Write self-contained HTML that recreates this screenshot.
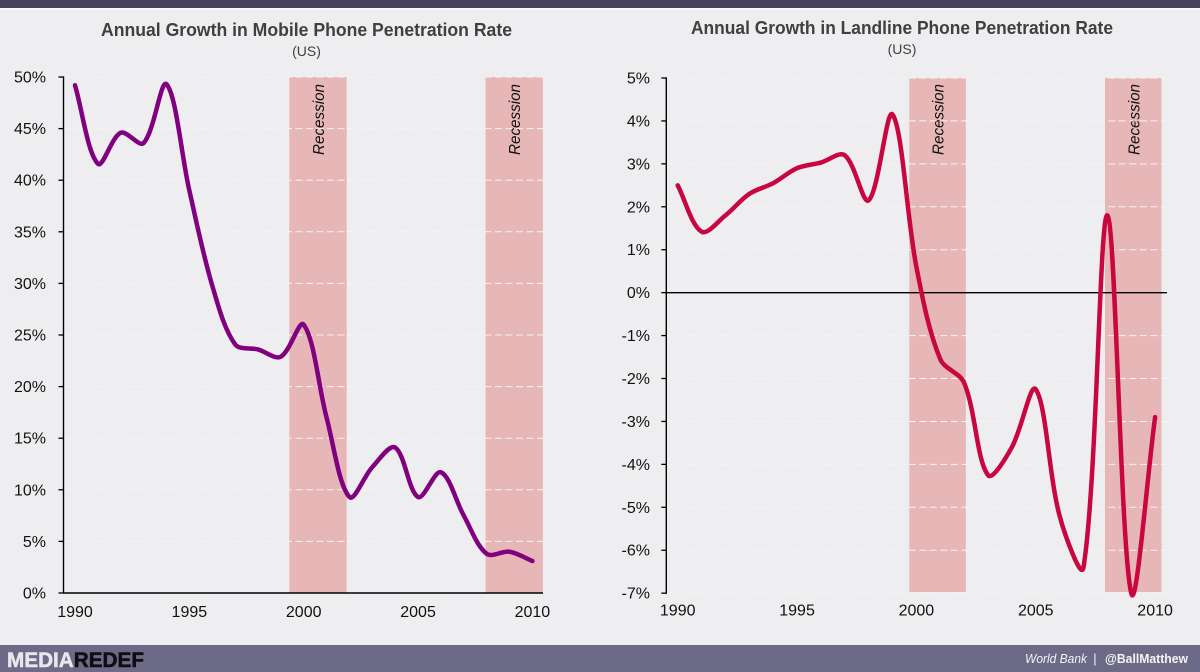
<!DOCTYPE html>
<html lang="en">
<head>
<meta charset="utf-8">
<title>Annual Growth in Phone Penetration Rate</title>
<style>
  html, body { margin: 0; padding: 0; background: #eeeef0; }
  body { width: 1200px; height: 672px; overflow: hidden; font-family: "Liberation Sans", sans-serif; }
  svg { display: block; }
  text { font-family: "Liberation Sans", sans-serif; }
</style>
</head>
<body>
<svg id="canvas" width="1200" height="672" viewBox="0 0 1200 672" xmlns="http://www.w3.org/2000/svg">
  <rect x="0" y="0" width="1200" height="672" fill="#eeeef0"/>
  <rect x="0" y="0" width="1200" height="8" fill="#44425a"/>
  <rect x="0" y="8" width="1200" height="1.5" fill="#fafafa"/>

  <g id="mobile-chart"></g>
  <g id="landline-chart"></g>

  <text x="306.5" y="36" text-anchor="middle" font-size="18" font-weight="700" fill="#404040" textLength="411" lengthAdjust="spacingAndGlyphs">Annual Growth in Mobile Phone Penetration Rate</text>
  <text x="306.5" y="56" text-anchor="middle" font-size="14" fill="#404040">(US)</text>
  <text x="902" y="34" text-anchor="middle" font-size="18" font-weight="700" fill="#404040" textLength="422" lengthAdjust="spacingAndGlyphs">Annual Growth in Landline Phone Penetration Rate</text>
  <text x="902" y="54" text-anchor="middle" font-size="14" fill="#404040">(US)</text>

  <rect x="0" y="645" width="1200" height="27" fill="#6c6a87"/>
  <text x="7" y="667" font-size="21" font-weight="700" textLength="137" lengthAdjust="spacingAndGlyphs"><tspan fill="#e8e8ec" stroke="#e8e8ec" stroke-width="0.5">MEDIA</tspan><tspan fill="#0d0d12" stroke="#0d0d12" stroke-width="0.5">REDEF</tspan></text>
  <text x="1025" y="663" font-size="13" font-style="italic" fill="#f4f4f6" textLength="62" lengthAdjust="spacingAndGlyphs">World Bank</text>
  <text x="1095" y="663" font-size="13" text-anchor="middle" fill="#f4f4f6">|</text>
  <text x="1105" y="663" font-size="13" font-weight="700" fill="#f4f4f6" textLength="83" lengthAdjust="spacingAndGlyphs">@BallMatthew</text>
</svg>

<script>
const years = [1990,1991,1992,1993,1994,1995,1996,1997,1998,1999,2000,2001,2002,2003,2004,2005,2006,2007,2008,2009,2010];
const mobileValues = [49.2,41.6,44.6,43.6,49.3,39.0,29.8,24.1,23.6,22.9,26.0,17.0,9.3,12.2,14.1,9.3,11.7,7.5,3.8,4.0,3.1];
const landlineValues = [2.5,1.42,1.8,2.3,2.55,2.9,3.03,3.2,2.15,4.15,0.6,-1.55,-2.1,-4.25,-3.6,-2.25,-5.2,-6.4,1.8,-7.0,-2.9];
const mobileTicks = [0,5,10,15,20,25,30,35,40,45,50];
const landlineTicks = [-7,-6,-5,-4,-3,-2,-1,0,1,2,3,4,5];
const yearTicks = [1990,1995,2000,2005,2010];
const mobileRecessions = [[1999.37,2001.88],[2007.95,2010.46]];
const landlineRecessions = [[1999.7,2002.07],[2007.9,2010.27]];

const SVG_NS = 'http://www.w3.org/2000/svg';

function make(tag, parent) {
  const el = document.createElementNS(SVG_NS, tag);
  parent.appendChild(el);
  return el;
}

function dist(a, b) {
  return Math.hypot(b[0] - a[0], b[1] - a[1]);
}

function smoothPath(points) {
  let d = 'M' + points[0][0].toFixed(2) + ' ' + points[0][1].toFixed(2);
  for (let i = 0; i < points.length - 1; i++) {
    const p0 = points[Math.max(i - 1, 0)];
    const p1 = points[i];
    const p2 = points[i + 1];
    const p3 = points[Math.min(i + 2, points.length - 1)];
    const d01 = dist(p0, p1);
    const d12 = dist(p1, p2);
    const d23 = dist(p2, p3);
    const out = d12 / (d01 + d12) / 3;
    const inn = d12 / (d12 + d23) / 3;
    const c1x = p1[0] + (p2[0] - p0[0]) * out;
    const c1y = p1[1] + (p2[1] - p0[1]) * out;
    const c2x = p2[0] - (p3[0] - p1[0]) * inn;
    const c2y = p2[1] - (p3[1] - p1[1]) * inn;
    d += 'C' + c1x.toFixed(2) + ' ' + c1y.toFixed(2) + ' ' + c2x.toFixed(2) + ' ' + c2y.toFixed(2) + ' ' + p2[0].toFixed(2) + ' ' + p2[1].toFixed(2);
  }
  return d;
}

function drawChart(cfg) {
  const root = document.getElementById(cfg.id);
  const xScale = function (year) {
    return cfg.x0 + (year - years[0]) * cfg.xStep;
  };
  const yScale = function (value) {
    return cfg.yTop + (cfg.yMax - value) * cfg.yStep;
  };

  cfg.bands.forEach(function (band) {
    const r = make('rect', root);
    
    
    r.setAttribute('x', xScale(band[0]));
    r.setAttribute('y', cfg.yTop);
    r.setAttribute('width', xScale(band[1]) - xScale(band[0]));
    r.setAttribute('height', cfg.bandBottom - cfg.yTop);
    r.setAttribute('fill', '#e7b7b7');

    const t = make('text', root);
    
    
    const cx = (xScale(band[0]) + xScale(band[1])) / 2;
    t.setAttribute('transform', 'translate(' + (cx + 6) + ' ' + 155 + ') rotate(-90)');
    t.setAttribute('font-size', '16');
    t.setAttribute('font-style', 'italic');
    t.setAttribute('fill', '#111');
    t.setAttribute('textLength', '71');
    t.setAttribute('lengthAdjust', 'spacingAndGlyphs');
    t.textContent = 'Recession';
  });

  cfg.ticks.forEach(function (tick) {
    const y = yScale(tick);
    if (tick !== cfg.xAxisValue) {
      const g = make('line', root);
      
      
      g.setAttribute('x1', cfg.axisX + 1);
      g.setAttribute('x2', cfg.xEnd);
      g.setAttribute('y1', y);
      g.setAttribute('y2', y);
      g.setAttribute('stroke', '#f8f2f2');
      g.setAttribute('stroke-width', '1');
      g.setAttribute('stroke-dasharray', '7 3.5');
    }

    const m = make('line', root);
    
    
    m.setAttribute('x1', cfg.axisX - 5);
    m.setAttribute('x2', cfg.axisX);
    m.setAttribute('y1', y);
    m.setAttribute('y2', y);
    m.setAttribute('stroke', '#000');
    m.setAttribute('stroke-width', '1.3');

    const l = make('text', root);
    
    
    l.setAttribute('x', cfg.labelRight);
    l.setAttribute('y', y + 5.5);
    l.setAttribute('text-anchor', 'end');
    l.setAttribute('font-size', '16');
    l.setAttribute('fill', '#111');
    l.textContent = tick + '%';
  });

  const yAxis = make('line', root);
  
  
  yAxis.setAttribute('x1', cfg.axisX);
  yAxis.setAttribute('x2', cfg.axisX);
  yAxis.setAttribute('y1', cfg.yTop - 0.6);
  yAxis.setAttribute('y2', yScale(cfg.yMin) + 0.6);
  yAxis.setAttribute('stroke', '#000');
  yAxis.setAttribute('stroke-width', '1.4');

  const xAxis = make('line', root);
  
  
  xAxis.setAttribute('x1', cfg.axisX);
  xAxis.setAttribute('x2', cfg.xEnd);
  xAxis.setAttribute('y1', yScale(cfg.xAxisValue));
  xAxis.setAttribute('y2', yScale(cfg.xAxisValue));
  xAxis.setAttribute('stroke', '#000');
  xAxis.setAttribute('stroke-width', '1.4');

  yearTicks.forEach(function (year) {
    const t = make('text', root);
    
    
    t.setAttribute('x', xScale(year));
    t.setAttribute('y', cfg.xLabelY);
    t.setAttribute('text-anchor', 'middle');
    t.setAttribute('font-size', '16');
    t.setAttribute('fill', '#111');
    t.textContent = year;
  });

  const points = cfg.values.map(function (value, i) {
    return [xScale(years[i]), yScale(value)];
  });
  const line = make('path', root);
  
  
  line.setAttribute('d', smoothPath(points));
  line.setAttribute('fill', 'none');
  line.setAttribute('stroke', cfg.color);
  line.setAttribute('stroke-width', '4.5');
  line.setAttribute('stroke-linejoin', 'round');
  line.setAttribute('stroke-linecap', 'round');
}

drawChart({
  id: 'mobile-chart',
  lineName: 'mobile-growth-line',
  values: mobileValues,
  ticks: mobileTicks,
  bands: mobileRecessions,
  color: '#800080',
  x0: 75,
  xStep: 22.87,
  yTop: 77,
  yMax: 50,
  yMin: 0,
  yStep: 10.32,
  xAxisValue: 0,
  axisX: 63.5,
  xEnd: 543,
  labelRight: 46,
  xLabelY: 617,
  bandBottom: 592.5
});

drawChart({
  id: 'landline-chart',
  lineName: 'landline-growth-line',
  values: landlineValues,
  ticks: landlineTicks,
  bands: landlineRecessions,
  color: '#c8063f',
  x0: 677.7,
  xStep: 23.87,
  yTop: 78,
  yMax: 5,
  yMin: -7,
  yStep: 42.93,
  xAxisValue: 0,
  axisX: 666.3,
  xEnd: 1167,
  labelRight: 650,
  xLabelY: 615.5,
  bandBottom: 592
});
</script>
</body>
</html>
